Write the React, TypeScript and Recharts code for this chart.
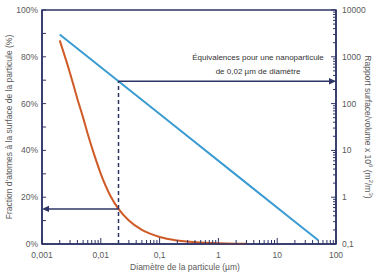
import React from 'react';
import { ComposedChart, Line, XAxis, YAxis, ReferenceLine, ReferenceArea } from 'recharts';

// diameters in µm
const ORANGE_DIAMETERS = [0.002, 0.003, 0.004, 0.005, 0.006, 0.008, 0.01, 0.015, 0.02, 0.03, 0.05, 0.1, 0.2, 0.5, 1, 2, 3];
// fraction of atoms at the surface (%)
const ORANGE_FRACTION = [87, 73, 62, 54, 47, 37, 30, 20, 15, 10, 6, 3, 1.5, 0.6, 0.3, 0.15, 0.1];

const BLUE_DIAMETERS = [0.002, 0.02, 0.2, 2, 20, 50];
// surface/volume ratio x 10^6 (m²/m³)
const BLUE_RATIO = [3000, 300, 30, 3, 0.3, 0.12];

const X_DECADES = [0.001, 0.01, 0.1, 1, 10, 100];
const X_LABELS = ['0,001', '0,01', '0,1', '1', '10', '100'];
const LEFT_TICKS = [0, 10, 20, 30, 40, 50, 60, 70, 80, 90, 100];
const LEFT_LABELS = ['0%', '', '20%', '', '40%', '', '60%', '', '80%', '', '100%'];
const RIGHT_DECADES = [0.1, 1, 10, 100, 1000, 10000];
const RIGHT_LABELS = ['0,1', '1', '10', '100', '1000', '10000'];

const NANO_D = 0.02;
const NANO_FRACTION = 15;
const NANO_RATIO = 300;

const NAVY = '#2e3566';
const TEXT = '#5a5a5a';
const BLUE = '#3a9bd2';
const ORANGE = '#cf5a26';
const FONT = '"Liberation Sans", Arial, sans-serif';

const withMinors = (decades: number[]) => {
  const out: number[] = [];
  decades.forEach((d, i) => {
    if (i === decades.length - 1) { out.push(d); return; }
    for (let k = 1; k < 10; k++) out.push(+(d * k).toPrecision(3));
  });
  return out;
};

const X_TICKS = withMinors(X_DECADES);
const RIGHT_TICKS = withMinors(RIGHT_DECADES);

const orangeData = ORANGE_DIAMETERS.map((d, i) => ({ d, v: ORANGE_FRACTION[i] }));
const blueData = BLUE_DIAMETERS.map((d, i) => ({ d, v: BLUE_RATIO[i] }));

const labelOf = (v: number, values: number[], labels: string[]) => {
  const i = values.findIndex(x => Math.abs(x - v) < v * 1e-6 + 1e-9);
  return i >= 0 ? labels[i] : null;
};

const XTick = (props: any) => {
  const { x, y, payload } = props;
  const lab = labelOf(payload.value, X_DECADES, X_LABELS);
  return (
    <g>
      <line x1={x} x2={x} y1={y} y2={y - (lab ? 6 : 4)} stroke={NAVY} strokeWidth={1} />
      {lab && (
        <text x={x} y={y + 14} textAnchor="middle" fontSize={8.5} fill={TEXT} fontFamily={FONT}>{lab}</text>
      )}
    </g>
  );
};

const LeftTick = (props: any) => {
  const { x, y, payload } = props;
  const i = LEFT_TICKS.indexOf(payload.value);
  const lab = i >= 0 ? LEFT_LABELS[i] : '';
  return (
    <g>
      <line x1={x} x2={x + 4} y1={y} y2={y} stroke={NAVY} strokeWidth={1} />
      {lab && (
        <text x={x - 4} y={y + 3} textAnchor="end" fontSize={8.5} fill={TEXT} fontFamily={FONT}>{lab}</text>
      )}
    </g>
  );
};

const RightTick = (props: any) => {
  const { x, y, payload } = props;
  const lab = labelOf(payload.value, RIGHT_DECADES, RIGHT_LABELS);
  return (
    <g>
      <line x1={x} x2={x - (lab ? 5 : 3)} y1={y} y2={y} stroke={NAVY} strokeWidth={1} />
      {lab && (
        <text x={x + 6} y={y + 3} textAnchor="start" fontSize={8.5} fill={TEXT} fontFamily={FONT}>{lab}</text>
      )}
    </g>
  );
};

const arrowShape = (text?: boolean) => (props: any) => {
  const { x1, y1, x2, y2 } = props;
  const ang = Math.atan2(y2 - y1, x2 - x1);
  const L = 7, W = 3.2;
  const bx = x2 - L * Math.cos(ang), by = y2 - L * Math.sin(ang);
  const px = -Math.sin(ang) * W, py = Math.cos(ang) * W;
  return (
    <g>
      <line x1={x1} y1={y1} x2={bx} y2={by} stroke={NAVY} strokeWidth={1.5} />
      <polygon points={`${x2},${y2} ${bx + px},${by + py} ${bx - px},${by - py}`} fill={NAVY} />
      {text && (
        <text x={x2 - 78} y={y2 - 21} textAnchor="middle" fontSize={8} fill="#333" fontFamily={FONT}>
          <tspan x={x2 - 78}>Équivalences pour une nanoparticule</tspan>
          <tspan x={x2 - 78} dy={14}>de 0,02 µm de diamètre</tspan>
        </text>
      )}
    </g>
  );
};

const LeftLabel = (props: any) => {
  const { viewBox } = props;
  const x = viewBox.x + 9;
  const y = viewBox.y + viewBox.height / 2;
  return (
    <text x={x} y={y} transform={`rotate(-90 ${x} ${y})`} textAnchor="middle" dominantBaseline="central" fontSize={8.5} fill={TEXT} fontFamily={FONT}>
      Fraction d'atomes à la surface de la particule (%)
    </text>
  );
};

const RightLabel = (props: any) => {
  const { viewBox } = props;
  const x = viewBox.x + viewBox.width - 8;
  const y = viewBox.y + viewBox.height / 2;
  return (
    <text x={x} y={y} transform={`rotate(90 ${x} ${y})`} textAnchor="middle" dominantBaseline="central" fontSize={8.5} fill={TEXT} fontFamily={FONT}>
      Rapport surface/volume x 10<tspan dy={-3} fontSize={6}>6</tspan><tspan dy={3}> (m</tspan><tspan dy={-3} fontSize={6}>2</tspan><tspan dy={3}>/m</tspan><tspan dy={-3} fontSize={6}>3</tspan><tspan dy={3}>)</tspan>
    </text>
  );
};

const BottomLabel = (props: any) => {
  const { viewBox } = props;
  return (
    <text x={viewBox.x + viewBox.width / 2 - 4} y={viewBox.y + 26} textAnchor="middle" fontSize={8.5} fill={TEXT} fontFamily={FONT}>
      Diamètre de la particule (µm)
    </text>
  );
};

export default function App() {
  return (
    <div style={{ position: 'absolute', left: 0, top: 0, background: '#fff' }}>
      <ComposedChart width={376} height={274} margin={{ top: 10, right: 0, bottom: 0, left: 0 }} style={{ fontFamily: FONT }}>
        <XAxis
          type="number"
          dataKey="d"
          scale="log"
          domain={[0.001, 100]}
          allowDataOverflow
          ticks={X_TICKS}
          interval={0}
          tick={<XTick />}
          tickSize={0}
          tickMargin={0}
          tickLine={false}
          axisLine={{ stroke: NAVY, strokeWidth: 1.5 }}
          height={30}
          label={<BottomLabel />}
        />
        <YAxis
          yAxisId="left"
          type="number"
          domain={[0, 100]}
          ticks={LEFT_TICKS}
          interval={0}
          tick={<LeftTick />}
          tickSize={0}
          tickMargin={0}
          tickLine={false}
          axisLine={{ stroke: NAVY, strokeWidth: 1.5 }}
          width={42}
          label={<LeftLabel />}
        />
        <YAxis
          yAxisId="right"
          orientation="right"
          type="number"
          scale="log"
          domain={[0.1, 10000]}
          allowDataOverflow
          ticks={RIGHT_TICKS}
          interval={0}
          tick={<RightTick />}
          tickSize={0}
          tickMargin={0}
          tickLine={false}
          axisLine={{ stroke: NAVY, strokeWidth: 1.5 }}
          width={40}
          label={<RightLabel />}
        />
        <ReferenceArea yAxisId="left" x1={0.001} x2={100} y1={0} y2={100} fill="none" stroke={NAVY} strokeWidth={1.5} />
        <Line yAxisId="right" data={blueData} dataKey="v" stroke={BLUE} strokeWidth={2} dot={false} type="linear" isAnimationActive={false} />
        <Line yAxisId="left" data={orangeData} dataKey="v" stroke={ORANGE} strokeWidth={2} dot={false} type="monotone" isAnimationActive={false} />
        <ReferenceLine
          yAxisId="right"
          segment={[{ x: NANO_D, y: 0.1 }, { x: NANO_D, y: NANO_RATIO }]}
          stroke={NAVY}
          strokeWidth={1.5}
          strokeDasharray="4 3"
        />
        <ReferenceLine
          yAxisId="right"
          segment={[{ x: NANO_D, y: NANO_RATIO }, { x: 100, y: NANO_RATIO }]}
          shape={arrowShape(true)}
        />
        <ReferenceLine
          yAxisId="left"
          segment={[{ x: NANO_D, y: NANO_FRACTION }, { x: 0.001, y: NANO_FRACTION }]}
          shape={arrowShape(false)}
        />
      </ComposedChart>
    </div>
  );
}
